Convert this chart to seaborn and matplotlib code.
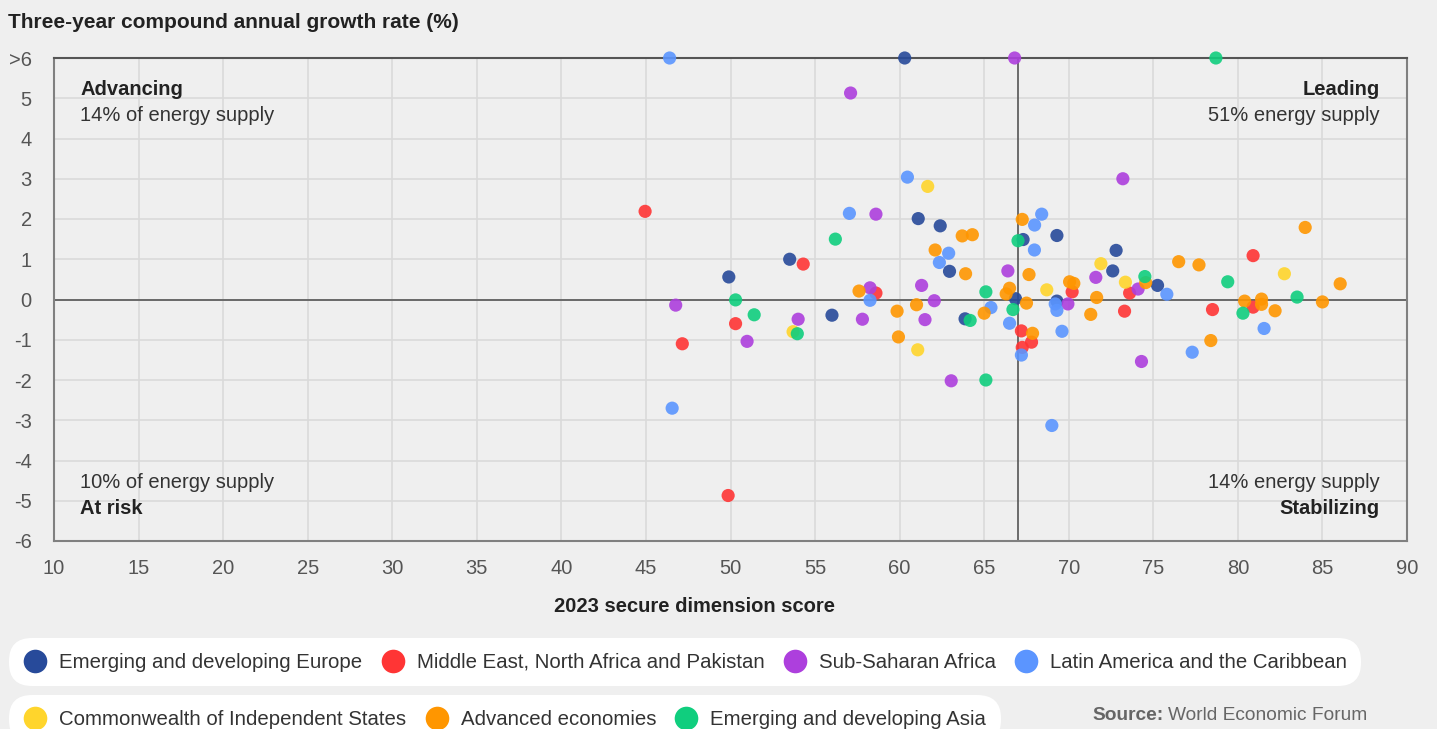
import numpy as np
import pandas as pd
import matplotlib.pyplot as plt
from matplotlib.lines import Line2D
import seaborn as sns

# region names (legend order)
regions = [
    "Emerging and developing Europe",
    "Middle East, North Africa and Pakistan",
    "Sub-Saharan Africa",
    "Latin America and the Caribbean",
    "Commonwealth of Independent States",
    "Advanced economies",
    "Emerging and developing Asia",
]
colors = ["#274A9A", "#FF3535", "#AD3FDD", "#5B95FF", "#FFD52C", "#FF9600", "#10CE7E"]

# secure dimension score (x) and 3-year CAGR (y, values >6 are capped at 6)
europe_x = [60.3, 61.1, 62.4, 67.3, 53.5, 62.95, 49.9, 66.85, 56.0, 63.87, 69.3, 72.8, 69.3, 72.6, 75.25]
europe_y = [6.0, 2.01, 1.83, 1.49, 1.0, 0.70, 0.56, 0.02, -0.39, -0.48, 1.59, 1.22, -0.04, 0.71, 0.35]

menap_x = [44.95, 54.3, 58.6, 50.3, 47.15, 67.2, 67.8, 67.25, 70.2, 73.6, 73.3, 78.5, 80.9, 80.9, 49.86]
menap_y = [2.19, 0.88, 0.16, -0.6, -1.1, -0.78, -1.06, -1.19, 0.19, 0.16, -0.29, -0.25, 1.09, -0.19, -4.87]

ssa_x = [66.8, 57.1, 58.6, 66.4, 61.3, 58.25, 62.05, 46.76, 54.0, 57.8, 61.5, 50.98, 63.05, 69.95, 71.6,
         74.1, 74.3, 73.2]
ssa_y = [6.0, 5.13, 2.12, 0.71, 0.35, 0.29, -0.03, -0.14, -0.49, -0.49, -0.5, -1.04, -2.02, -0.11, 0.55,
         0.26, -1.54, 3.0]

lac_x = [46.4, 60.46, 57.03, 67.98, 67.97, 62.9, 62.35, 58.25, 65.4, 66.5, 67.2, 68.4, 69.2, 69.3, 69.6,
         75.8, 77.3, 81.55, 46.55, 69.0]
lac_y = [6.0, 3.04, 2.14, 1.85, 1.23, 1.15, 0.92, -0.02, -0.2, -0.59, -1.38, 2.12, -0.11, -0.27, -0.79,
         0.13, -1.31, -0.72, -2.7, -3.13]

cis_x = [61.66, 53.7, 61.07, 68.7, 71.9, 73.35, 82.75]
cis_y = [2.81, -0.8, -1.25, 0.24, 0.89, 0.43, 0.64]

adv_x = [63.7, 64.3, 67.25, 62.1, 63.9, 67.65, 57.6, 66.5, 66.3, 67.5, 59.85, 61.0, 65.0, 59.93, 67.86,
         70.05, 70.3, 71.3, 71.65, 74.55, 76.5, 77.7, 78.4, 80.4, 81.4, 81.4, 82.2, 83.98, 85.0, 86.05]
adv_y = [1.58, 1.61, 1.99, 1.23, 0.64, 0.62, 0.21, 0.28, 0.14, -0.09, -0.29, -0.13, -0.34, -0.93, -0.84,
         0.44, 0.40, -0.37, 0.05, 0.42, 0.94, 0.86, -1.02, -0.04, 0.01, -0.12, -0.28, 1.79, -0.06, 0.39]

asia_x = [78.7, 56.2, 67.0, 65.1, 50.3, 51.4, 53.95, 64.17, 66.7, 65.1, 74.5, 79.4, 80.3, 83.5]
asia_y = [6.0, 1.5, 1.46, 0.19, -0.01, -0.38, -0.85, -0.52, -0.25, -2.0, 0.57, 0.44, -0.34, 0.06]

x_ticks = list(range(10, 95, 5))
y_ticks = list(range(-6, 7))
y_labels = ["-6", "-5", "-4", "-3", "-2", "-1", "0", "1", "2", "3", "4", "5", ">6"]

all_x = [europe_x, menap_x, ssa_x, lac_x, cis_x, adv_x, asia_x]
all_y = [europe_y, menap_y, ssa_y, lac_y, cis_y, adv_y, asia_y]
df = pd.concat([pd.DataFrame({"score": xs, "growth": ys, "region": r})
                for xs, ys, r in zip(all_x, all_y, regions)], ignore_index=True)

sns.set_style("white")
plt.rcParams["font.family"] = ["Liberation Sans", "DejaVu Sans"]
bg = "#EFEFEF"

fig, ax = plt.subplots(figsize=(14.37, 7.29), dpi=100)
fig.patch.set_facecolor(bg)
ax.set_facecolor(bg)
fig.subplots_adjust(left=54 / 1437, right=1407 / 1437, top=1 - 58 / 729, bottom=1 - 541 / 729)

ax.set_xlim(10, 90)
ax.set_ylim(-6, 6)
ax.set_xticks(x_ticks)
ax.set_yticks(y_ticks)
ax.set_yticklabels(y_labels)
ax.grid(True, color="#DADADA", lw=1.2)
ax.set_axisbelow(True)
ax.tick_params(axis="x", length=0, pad=13, labelsize=14.5, labelcolor="#555555")
ax.tick_params(axis="y", length=0, pad=16, labelsize=14.5, labelcolor="#555555")
for side in ["left", "bottom", "right"]:
    ax.spines[side].set_color("#808080")
    ax.spines[side].set_linewidth(1.5)
ax.spines["top"].set_color("#555555")
ax.spines["top"].set_linewidth(1.5)

# quadrant dividers
ax.axhline(0, color="#555555", lw=1.2, zorder=1)
ax.axvline(67, color="#555555", lw=1.2, zorder=1)

sns.scatterplot(data=df, x="score", y="growth", hue="region", hue_order=regions,
                palette=colors, s=90, alpha=0.9, edgecolor="none", legend=False,
                clip_on=False, zorder=3, ax=ax)
ax.set_xlabel("")
ax.set_ylabel("")

# quadrant labels
tc = "#222222"
ax.text(0.0195, 0.934, "Advancing", transform=ax.transAxes, fontsize=14.5, weight="bold",
        color=tc, va="center")
ax.text(0.0195, 0.880, "14% of energy supply", transform=ax.transAxes, fontsize=14.5,
        color="#333333", va="center")
ax.text(0.98, 0.934, "Leading", transform=ax.transAxes, fontsize=14.5, weight="bold",
        color=tc, va="center", ha="right")
ax.text(0.98, 0.880, "51% energy supply", transform=ax.transAxes, fontsize=14.5,
        color="#333333", va="center", ha="right")
ax.text(0.0195, 0.122, "10% of energy supply", transform=ax.transAxes, fontsize=14.5,
        color="#333333", va="center")
ax.text(0.0195, 0.068, "At risk", transform=ax.transAxes, fontsize=14.5, weight="bold",
        color=tc, va="center")
ax.text(0.98, 0.122, "14% energy supply", transform=ax.transAxes, fontsize=14.5,
        color="#333333", va="center", ha="right")
ax.text(0.98, 0.068, "Stabilizing", transform=ax.transAxes, fontsize=14.5, weight="bold",
        color=tc, va="center", ha="right")

# titles
fig.text(8 / 1437, 1 - 23 / 729, "Three-year compound annual growth rate (%)", fontsize=15,
         weight="bold", color=tc, va="center", ha="left")
fig.text(695 / 1437, 1 - 607 / 729, "2023 secure dimension score", fontsize=14.5,
         weight="bold", color=tc, va="center", ha="center")

# legend pills
handles = [Line2D([0], [0], marker="o", linestyle="none", markersize=17,
                  markerfacecolor=c, markeredgecolor="none") for c in colors]
leg_kw = dict(frameon=True, fontsize=14.7, handlelength=1.15, handletextpad=0.6,
              columnspacing=0.9, borderpad=0.72, borderaxespad=0, labelcolor="#333333",
              loc="upper left")
leg1 = fig.legend(handles[:4], regions[:4], ncol=4,
                  bbox_to_anchor=(9 / 1437, 1 - 638 / 729), **leg_kw)
leg2 = fig.legend(handles[4:], regions[4:], ncol=3,
                  bbox_to_anchor=(9 / 1437, 1 - 695 / 729), **leg_kw)
for leg in (leg1, leg2):
    fr = leg.get_frame()
    fr.set_facecolor("white")
    fr.set_edgecolor("none")
    fr.set_alpha(1)
    fr.set_boxstyle("round,pad=0,rounding_size=1.15")

fig.text(1092 / 1437, 1 - 715 / 729, "Source:", fontsize=13.8, weight="bold",
         color="#666666", va="center", ha="left")
fig.text(1168 / 1437, 1 - 715 / 729, "World Economic Forum", fontsize=13.8,
         color="#666666", va="center", ha="left")

fig.savefig("out.png", dpi=100, facecolor=bg)
